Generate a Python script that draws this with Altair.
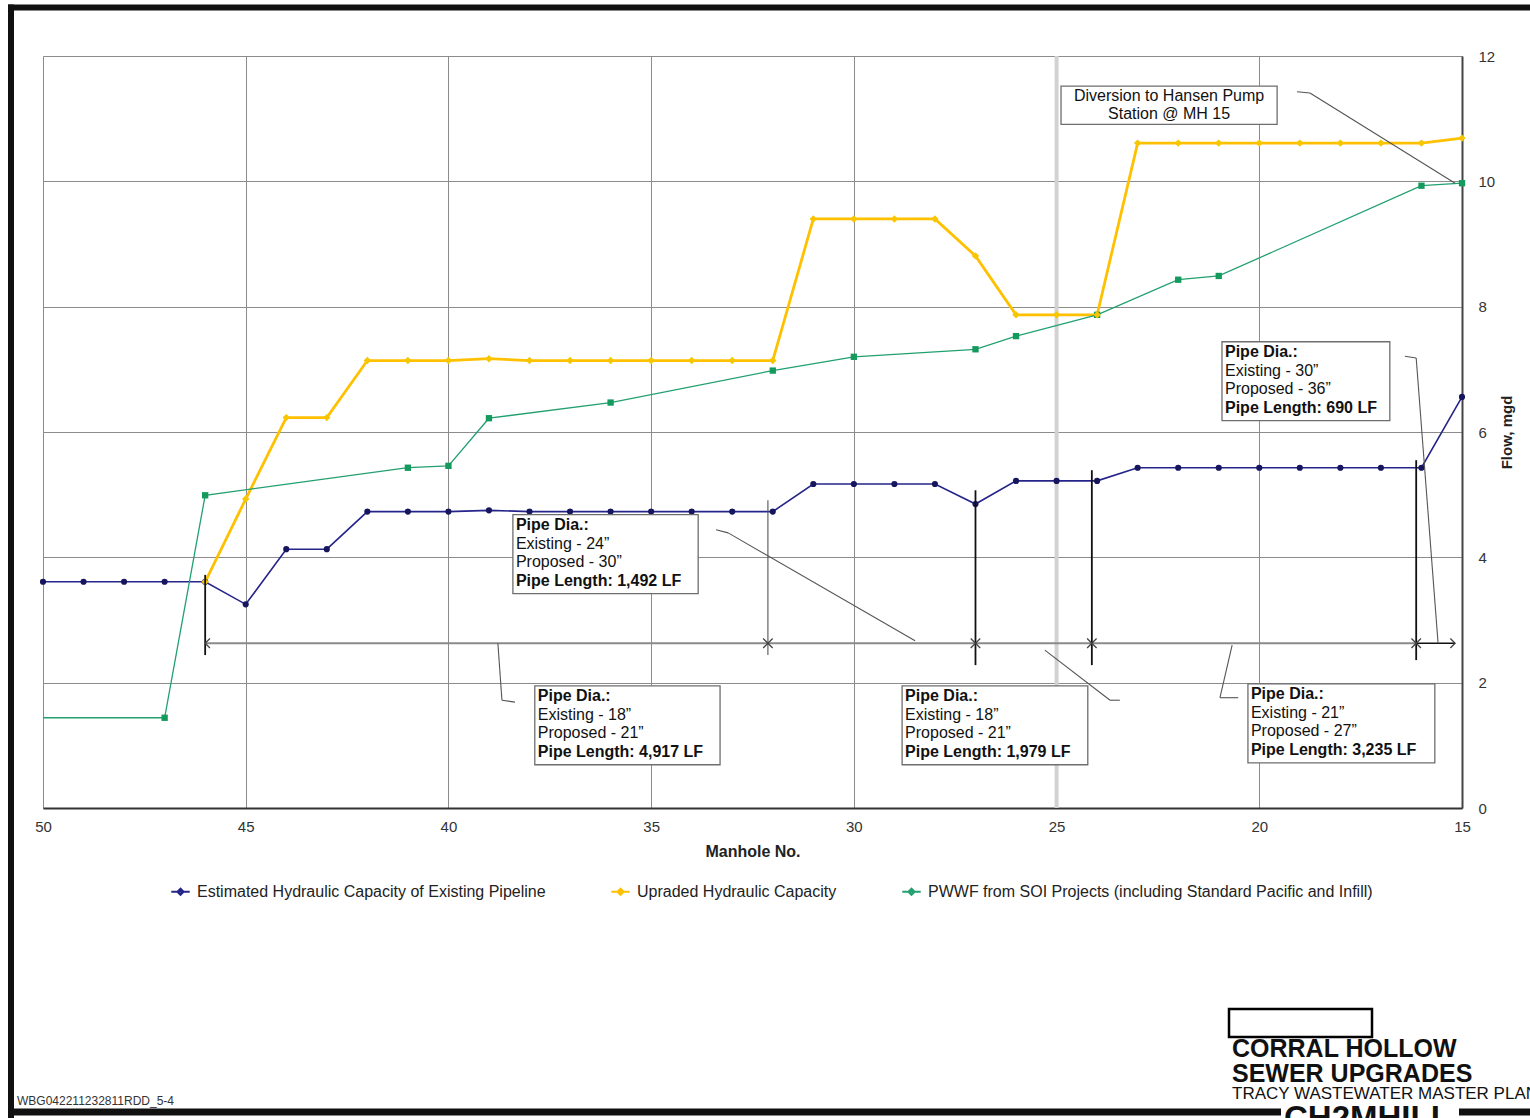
import altair as alt
import pandas as pd

# ---------------- data ----------------
SERIES = [
    "Estimated Hydraulic Capacity of Existing Pipeline",
    "Upraded Hydraulic Capacity",
    "PWWF from SOI Projects (including Standard Pacific and Infill)",
]
COLORS = ["#24248a", "#ffc000", "#22a070"]

existing_manholes = list(range(50, 14, -1))
existing_capacity = [3.61, 3.61, 3.61, 3.61, 3.61, 3.25, 4.13, 4.13, 4.73, 4.73,
                     4.73, 4.75, 4.73, 4.73, 4.73, 4.73, 4.73, 4.73, 4.73, 5.17,
                     5.17, 5.17, 5.17, 4.85, 5.22, 5.22, 5.22, 5.43, 5.43, 5.43,
                     5.43, 5.43, 5.43, 5.43, 5.43, 6.56]

upgraded_manholes = list(range(46, 14, -1))
upgraded_capacity = [3.61, 4.93, 6.23, 6.23, 7.14, 7.14, 7.14, 7.17, 7.14, 7.14,
                     7.14, 7.14, 7.14, 7.14, 7.14, 9.40, 9.40, 9.40, 9.40, 8.81,
                     7.87, 7.87, 7.87, 10.61, 10.61, 10.61, 10.61, 10.61, 10.61,
                     10.61, 10.61, 10.69]

pwwf_manholes = [50, 47, 46, 41, 40, 39, 36, 32, 30, 27, 26, 24, 22, 21, 16, 15]
pwwf_flow = [1.44, 1.44, 4.99, 5.43, 5.46, 6.22, 6.47, 6.98, 7.20, 7.32, 7.53,
             7.87, 8.43, 8.49, 9.93, 9.97]

# pipe segment annotations
seg_breaks = [46.0, 32.12, 27.0, 24.13, 16.13, 15.17]
seg_dim_flow = 2.63
tick_x = [46.0, 27.0, 24.13, 16.13]
tick_lo = [2.44, 2.28, 2.28, 2.36]
tick_hi = [3.72, 5.07, 5.39, 5.55]
thin_tick_x = [32.12]
thin_tick_lo = [2.44]
thin_tick_hi = [4.91]

box_existing = ["24", "18", "18", "21", "30"]
box_proposed = ["30", "21", "21", "27", "36"]
box_length = ["1,492", "4,917", "1,979", "3,235", "690"]
box_x = [38.41, 37.87, 28.81, 20.28, 20.92]
box_x2 = [33.84, 33.30, 24.23, 15.67, 16.78]
box_y = [4.68, 1.95, 1.95, 1.98, 7.44]
box_y2 = [3.42, 0.69, 0.69, 0.72, 6.18]

div_lines = ["Diversion to Hansen Pump", "Station @ MH 15"]
div_box = dict(x=24.89, x2=19.56, y=11.52, y2=10.91)

leader_x = [33.40, 33.10, 38.78, 38.68, 25.29, 23.68, 20.67, 20.97, 16.41, 16.13, 19.07, 18.75]
leader_y = [4.44, 4.39, 2.63, 1.72, 2.52, 1.72, 2.60, 1.76, 7.21, 7.18, 11.43, 11.41]
leader_x2 = [33.10, 28.49, 38.68, 38.36, 23.68, 23.44, 20.97, 20.52, 16.13, 15.59, 18.75, 15.17]
leader_y2 = [4.39, 2.67, 1.72, 1.69, 1.72, 1.72, 1.76, 1.76, 7.18, 2.63, 11.41, 9.97]

# ---------------- tables ----------------
df = pd.concat([
    pd.DataFrame({"series": SERIES[0], "manhole": existing_manholes, "flow": existing_capacity}),
    pd.DataFrame({"series": SERIES[1], "manhole": upgraded_manholes, "flow": upgraded_capacity}),
    pd.DataFrame({"series": SERIES[2], "manhole": pwwf_manholes, "flow": pwwf_flow}),
], ignore_index=True)

FONT = "Liberation Sans"
X_SCALE = alt.Scale(domain=[15, 50], reverse=True, nice=False, zero=False)
Y_SCALE = alt.Scale(domain=[0, 12], nice=False, zero=True)
X_AXIS = alt.Axis(title="Manhole No.", values=list(range(15, 51, 5)), grid=True,
                  ticks=False, labelPadding=11, titlePadding=9, labelFontSize=15,
                  titleFontSize=16, titleFontWeight="bold", labelColor="#333",
                  titleColor="#222", domainColor="#333", domainWidth=2,
                  gridColor="#8c8c8c", gridWidth=1, labelFont=FONT, titleFont=FONT,
                  labelFlush=False, labelOverlap=False, format="d")
Y_AXIS = alt.Axis(title="Flow, mgd", orient="right", values=list(range(0, 13, 2)),
                  grid=True, ticks=False, labelPadding=16, titlePadding=20,
                  labelFontSize=15, titleFontSize=15, titleFontWeight="bold",
                  labelColor="#333", titleColor="#222", domainColor="#444",
                  domainWidth=2, gridColor="#8c8c8c", gridWidth=1, titleAngle=270,
                  labelFont=FONT, titleFont=FONT, labelFlush=False,
                  labelOverlap=False, format="d")


def xq(field):
    return alt.X(f"{field}:Q", scale=X_SCALE, axis=X_AXIS)


def yq(field):
    return alt.Y(f"{field}:Q", scale=Y_SCALE, axis=Y_AXIS)


LEGEND = alt.Legend(title=None, orient="none", direction="horizontal",
                    legendX=127, legendY=825, labelFontSize=16,
                    labelFont=FONT, labelColor="#222", labelLimit=700,
                    columnPadding=60, labelOffset=6, padding=0,
                    symbolType="M-1,0L1,0M-0.32,0L0,-0.32L0.32,0L0,0.32Z",
                    symbolSize=340, symbolStrokeWidth=2.2)
COLOR = alt.Color("series:N", scale=alt.Scale(domain=SERIES, range=COLORS), legend=LEGEND)

# light band at manhole 25
band = alt.Chart(pd.DataFrame({"manhole": [25]})).mark_rule(
    color="#d2d2d2", strokeWidth=4
).encode(x=xq("manhole"))

line_widths = [1.6, 2.8, 1.3]
line_layers = []
for s, w in zip(SERIES, line_widths):
    line_layers.append(
        alt.Chart(df).transform_filter(alt.datum.series == s).mark_line(strokeWidth=w).encode(
            x=xq("manhole"), y=yq("flow"), color=COLOR)
    )

pts_existing = alt.Chart(df).transform_filter(
    alt.datum.series == SERIES[0]
).mark_point(shape="circle", filled=True, size=38, color="#16165e", opacity=1).encode(
    x=xq("manhole"), y=yq("flow"))

pts_upgraded = alt.Chart(df).transform_filter(
    alt.datum.series == SERIES[1]
).mark_point(shape="diamond", filled=True, size=55, color="#f7c600", opacity=1).encode(
    x=xq("manhole"), y=yq("flow"))

pts_pwwf = alt.Chart(df).transform_filter(
    (alt.datum.series == SERIES[2]) & (alt.datum.manhole < 50)
).mark_point(shape="square", filled=True, size=40, color="#139a5c", opacity=1).encode(
    x=xq("manhole"), y=yq("flow"))

# dimension line
dim_main = alt.Chart(pd.DataFrame({"a": [seg_breaks[0]], "b": [seg_breaks[-2]], "y": [seg_dim_flow]})).mark_rule(
    color="#8a8a8a", strokeWidth=2).encode(x=xq("a"), x2="b", y=yq("y"))
dim_last = alt.Chart(pd.DataFrame({"a": [seg_breaks[-2]], "b": [seg_breaks[-1]], "y": [seg_dim_flow]})).mark_rule(
    color="#111", strokeWidth=1.5).encode(x=xq("a"), x2="b", y=yq("y"))

arrows_left = alt.Chart(pd.DataFrame({"x": seg_breaks[:-1], "y": seg_dim_flow})).mark_point(
    shape="M1,-1L0,0L1,1", size=90, filled=False, color="#444", strokeWidth=1.3, opacity=1
).encode(x=xq("x"), y=yq("y"))
arrows_right = alt.Chart(pd.DataFrame({"x": seg_breaks[1:], "y": seg_dim_flow})).mark_point(
    shape="M-1,-1L0,0L-1,1", size=90, filled=False, color="#444", strokeWidth=1.3, opacity=1
).encode(x=xq("x"), y=yq("y"))

ticks = alt.Chart(pd.DataFrame({"x": tick_x, "lo": tick_lo, "hi": tick_hi})).mark_rule(
    color="#111", strokeWidth=1.8).encode(x=xq("x"), y=yq("lo"), y2="hi")
thin_ticks = alt.Chart(pd.DataFrame({"x": thin_tick_x, "lo": thin_tick_lo, "hi": thin_tick_hi})).mark_rule(
    color="#555", strokeWidth=1.1).encode(x=xq("x"), y=yq("lo"), y2="hi")

leaders = alt.Chart(pd.DataFrame({"x": leader_x, "y": leader_y, "x2": leader_x2, "y2": leader_y2})).mark_rule(
    color="#555", strokeWidth=1.1).encode(x=xq("x"), y=yq("y"), x2="x2", y2="y2")

# annotation boxes
boxes_df = pd.DataFrame({
    "x": box_x + [div_box["x"]], "x2": box_x2 + [div_box["x2"]],
    "y": box_y + [div_box["y"]], "y2": box_y2 + [div_box["y2"]],
})
boxes = alt.Chart(boxes_df).mark_rect(fill="white", stroke="#6e6e6e", strokeWidth=1.3).encode(
    x=xq("x"), x2="x2", y=yq("y"), y2="y2")

text_df = pd.DataFrame({
    "x": box_x, "y": box_y,
    "l0": ["Pipe Dia.:"] * len(box_x),
    "l1": [f"Existing - {v}\u201d" for v in box_existing],
    "l2": [f"Proposed - {v}\u201d" for v in box_proposed],
    "l3": [f"Pipe Length: {v} LF" for v in box_length],
})
line_offsets = [10, 29, 47.5, 66]
text_layers = []
for i, key in enumerate(["l0", "l1", "l2", "l3"]):
    weight = "bold" if i in (0, 3) else "normal"
    text_layers.append(
        alt.Chart(text_df).mark_text(
            align="left", baseline="middle", dx=3, dy=line_offsets[i], fontSize=16,
            font=FONT, fontWeight=weight, color="#111"
        ).encode(x=xq("x"), y=yq("y"), text=f"{key}:N")
    )

div_df = pd.DataFrame({"x": [(div_box["x"] + div_box["x2"]) / 2] * 2,
                       "y": [div_box["y"]] * 2, "t": div_lines, "i": [0, 1]})
div_text0 = alt.Chart(div_df).transform_filter(alt.datum.i == 0).mark_text(
    align="center", baseline="middle", dy=10, fontSize=16, font=FONT, color="#111"
).encode(x=xq("x"), y=yq("y"), text="t:N")
div_text1 = alt.Chart(div_df).transform_filter(alt.datum.i == 1).mark_text(
    align="center", baseline="middle", dy=28, fontSize=16, font=FONT, color="#111"
).encode(x=xq("x"), y=yq("y"), text="t:N")

# ---------------- page decoration (pixel space, relative to plot origin) ----------------
one = pd.DataFrame({"k": [0]})


def deco_rule(x, x2, y, y2, w, color="#111"):
    return alt.Chart(one).mark_rule(color=color, strokeWidth=w).encode(
        x=alt.value(x), x2=alt.value(x2), y=alt.value(y), y2=alt.value(y2))


def deco_text(txt, x, y, size, weight="normal", color="#111"):
    return alt.Chart(one).mark_text(
        text=txt, align="left", baseline="alphabetic", fontSize=size,
        fontWeight=weight, font=FONT, color=color
    ).encode(x=alt.value(x), y=alt.value(y))


frame = [
    deco_rule(-35, 1490, -48.5, -48.5, 6),
    deco_rule(-32, -32, -51.5, 1062, 6),
    deco_rule(-35, 1238, 1056, 1056, 7),
    deco_rule(1416, 1490, 1056, 1056, 7),
    alt.Chart(one).mark_rect(fill="white", stroke="#000", strokeWidth=2.5).encode(
        x=alt.value(1186), x2=alt.value(1329), y=alt.value(953), y2=alt.value(981)),
    deco_text("CORRAL HOLLOW", 1189, 1001, 25, "bold"),
    deco_text("SEWER UPGRADES", 1189, 1026, 25, "bold"),
    deco_text("TRACY WASTEWATER MASTER PLAN", 1189, 1043, 17),
    deco_text("CH2MHILL.", 1241, 1073, 33, "bold"),
    deco_text("WBG042211232811RDD_5-4", -26, 1049, 12, color="#333"),
]

chart = alt.layer(
    band, *line_layers, pts_pwwf, pts_existing, pts_upgraded,
    dim_main, dim_last, ticks, thin_ticks, arrows_left, arrows_right,
    leaders, boxes, *text_layers, div_text0, div_text1, *frame
).properties(
    width=1419, height=752,
    padding={"left": 43, "top": 56, "right": 68, "bottom": 310},
    autosize=alt.AutoSizeParams(type="none"),
    background="white",
).configure_view(stroke=None).configure(font=FONT)

chart.save("out.html", embed_options={"renderer": "svg", "actions": False})
